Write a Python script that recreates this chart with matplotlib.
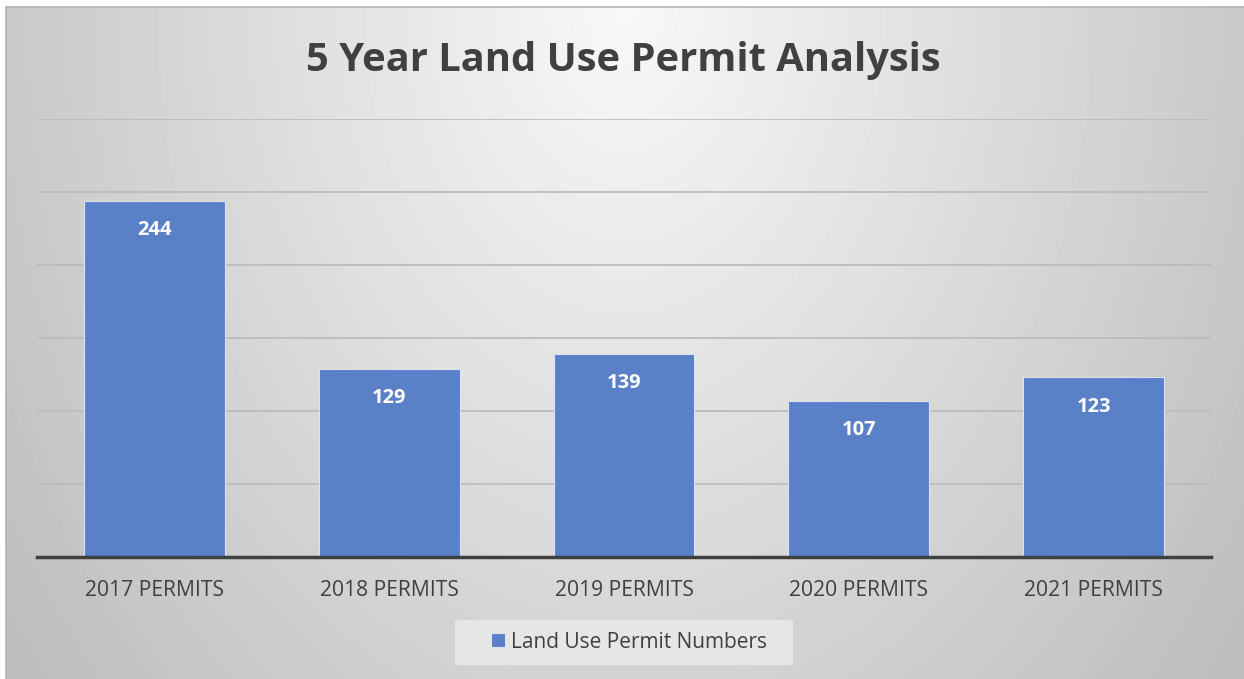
import numpy as np
from matplotlib import pyplot as plt
from matplotlib.patches import Rectangle

categories = ["2017 PERMITS", "2018 PERMITS", "2019 PERMITS", "2020 PERMITS", "2021 PERMITS"]
permits = [244, 129, 139, 107, 123]
series_name = "Land Use Permit Numbers"
title = "5 Year Land Use Permit Analysis"

plt.rcParams['font.family'] = ['Open Sans', 'DejaVu Sans']

W, H = 1244, 679
fig = plt.figure(figsize=(W / 100, H / 100), dpi=100)
fig.patch.set_facecolor('white')

# background gradient panel (light at top centre, grey toward corners)
bg = fig.add_axes([6 / W, 0, 1 - 6 / W, 1 - 7 / H])
gx, gy = np.meshgrid(np.linspace(0, 1, 400), np.linspace(0, 1, 220))
r = np.sqrt(((gx - 0.5) / 0.55) ** 2 + ((gy) / 1.4) ** 2)
shade = np.clip(248 - 52 * r, 190, 250) / 255
bg.imshow(shade, cmap='gray', vmin=0, vmax=1, aspect='auto', extent=[0, 1, 1, 0])
bg.set_xticks([])
bg.set_yticks([])
for s in ['right', 'bottom']:
    bg.spines[s].set_visible(False)
for s in ['left', 'top']:
    bg.spines[s].set_color('#b4b4b4')
    bg.spines[s].set_linewidth(1.2)
# legend box, drawn on the background so the legend sits on top
bg.add_patch(Rectangle((455 / W, 1 - 665 / H), (793 - 455) / W, 45 / H,
                       transform=fig.transFigure, facecolor='#e6e6e6',
                       edgecolor='none'))

ax = fig.add_axes([37 / W, 1 - 557 / H, (1211 - 37) / W, (557 - 119) / H])
ax.patch.set_alpha(0)
x = np.arange(len(categories))
bars = ax.bar(x, permits, width=0.6, color='#5a80c8', edgecolor='#dce4f2',
              linewidth=0.8, label=series_name, zorder=3)

ax.set_ylim(0, 300)
ax.set_xlim(-0.5, len(categories) - 0.5)
ax.set_yticks(np.arange(0, 301, 50))
ax.yaxis.grid(True, color='#bcbcbc', linewidth=1.3, zorder=0)
ax.tick_params(axis='y', left=False, labelleft=False)
ax.tick_params(axis='x', bottom=False, pad=13, labelsize=15.2, labelcolor='#404040')
ax.set_xticks(x)
ax.set_xticklabels(categories)
for s in ['left', 'right', 'top']:
    ax.spines[s].set_visible(False)
ax.spines['bottom'].set_color('#404040')
ax.spines['bottom'].set_linewidth(2.5)
ax.spines['bottom'].set_zorder(4)

for xi, v in zip(x, permits):
    ax.annotate(str(v), (xi, v), xytext=(0, -21), textcoords='offset points',
                ha='center', va='center', color='white', fontsize=14.5,
                fontweight='bold', zorder=5)

fig.text(0.5008, 1 - 60 / H, title, ha='center', va='center', fontsize=28.7,
         fontweight='bold', color='#404040')

leg = ax.legend(loc='center', bbox_to_anchor=(629 / W, 1 - 642 / H),
                bbox_transform=fig.transFigure, frameon=False,
                fontsize=15, handlelength=0.65, handleheight=0.65,
                handletextpad=0.3, borderpad=0, borderaxespad=0)
for t in leg.get_texts():
    t.set_color('#404040')

fig.savefig('out.png', dpi=100)
